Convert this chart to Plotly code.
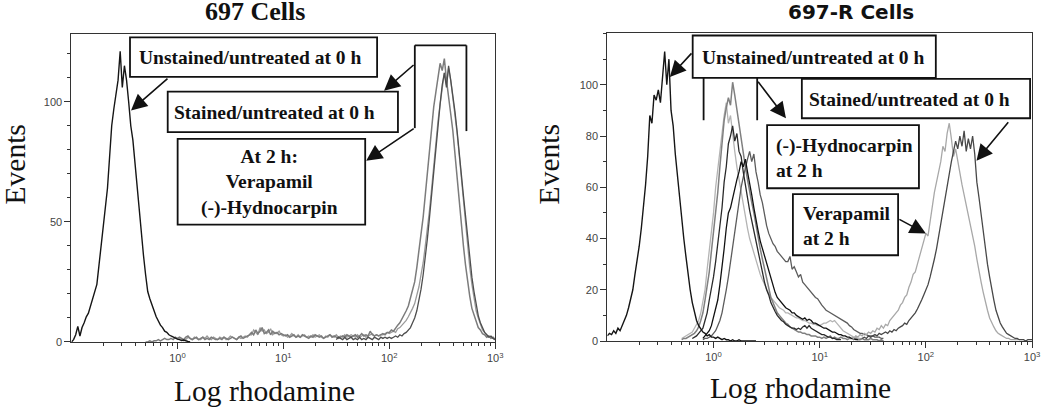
import plotly.graph_objects as go

W, H = 1050, 416
STEP = 0.02  # channel width, in decades of log rhodamine

# ---------------- data: start (log10 of first channel) + events per channel ----------------
# 697 cells
left_unst_start = -1.00
left_unst = [0, 1, 3, 6.5, 2.5, 6, 8, 10.5, 12, 15, 17, 20, 24, 32, 40, 48, 56, 64, 77, 90,
             97, 104, 109, 121, 106, 115, 109, 100, 90, 84, 74, 66, 57, 47, 36, 28, 21, 18, 15, 13,
             10.5, 8.5, 7, 6, 4.5, 4, 3, 2.5, 2, 1.5, 1.2, 1, 0.6, 0.8, 0.4, 0.2, 0]

left_vera_start = -0.30
left_vera = [0, 0, 0.5, 0, 0.5, 0.5, 1, 0.5, 1, 1.5, 1, 1, 1.5, 1, 2, 1.5,
             2, 1.5, 1, 2, 2.5, 1.5, 1, 1.5, 2, 1, 1.5, 2, 1, 1.5, 1, 2, 1.5, 1, 1, 1.5,
             1, 2, 1.5, 1, 1.5, 2, 1.5, 1, 2, 2.5, 1.5, 2, 2.5, 3,
             4, 3, 5, 3.5, 4.5, 6, 3.5, 4, 5, 3, 4.5, 3.5, 4, 3, 3.5, 3,
             2.5, 3, 2, 2.5, 3, 2, 2.5, 2, 3, 2.5, 2, 1.5, 2.5, 2, 3, 2.5, 2, 2.5, 1.5, 2,
             2.5, 3, 2, 2.5, 2, 1.5, 2, 2.5, 2, 3, 2.5, 2, 2.5, 3, 2, 2.5, 3.5, 2.5, 3, 2.5,
             4.5, 3, 2.5, 3, 2.5, 3, 3.5, 3, 4,
             4, 5, 4.5, 6, 7, 8, 9.5, 11, 13, 15, 18, 21, 25, 31, 37, 45, 52, 61, 70, 80,
             90, 98, 104, 110, 116, 113, 118, 109, 103, 95, 88, 78, 68, 58, 49, 40, 32, 25, 19, 14,
             11, 8, 6, 5, 3.5, 3, 2, 2.5, 1.5, 2, 1]

left_hydn_start = 0.00
left_hydn = [1, 1.5, 1, 0.5, 1, 2, 1.5, 1, 2, 1.5, 1, 1, 2, 1.5, 2.5, 1.5, 1, 2, 1.5, 1,
             2, 1.5, 2, 1, 1.5, 2.5, 2, 1.5, 1, 2, 1.5, 2, 2.5, 2, 3,
             3, 5, 4, 3, 6, 4.5, 5, 3.5, 4, 5.5, 3, 4, 3.5, 4.5, 3, 2.5,
             3, 2, 2.5, 3.5, 2.5, 2, 3, 2, 2.5, 3, 2, 2.5, 2, 3, 2, 2.5, 3, 2, 1.5, 2.5,
             2, 3, 2.5, 2, 3, 2, 2.5, 2, 3, 2, 2.5, 3, 2.5, 2, 3, 2, 2.5, 3, 2, 2.5,
             3, 3.5, 2.5, 3, 2.5, 3, 3, 3.5, 4,
             3.5, 4, 4.5, 4, 5.5, 6, 7, 8, 9, 10.5, 12, 14, 16, 19, 23, 28, 33, 40, 47, 55,
             64, 74, 84, 92, 99, 106, 112, 107, 114, 109, 102, 95, 87, 78, 68, 58, 48, 39, 31, 24,
             18, 13, 10, 7, 5, 4, 3, 2.5, 2, 1.5, 1]

left_stain_start = 1.50
left_stain = [1, 2, 1.5, 1, 2, 1, 1.5, 2, 1, 1.5, 1, 2, 1, 1.5, 1, 2, 1.5, 1, 2, 1.5,
              1, 2, 1.5, 2, 1.5,
              2, 1.5, 2, 2.5, 2, 3, 2.5, 3.5, 4, 5, 6, 8, 10, 13, 17, 22, 28, 35, 43, 52,
              62, 72, 82, 91, 99, 107, 112, 106, 115, 109, 103, 96, 88, 80, 70, 61, 52, 43, 35, 27,
              21, 15, 11, 8, 6, 4, 3, 2, 2.5, 1.5, 1]

# 697-R cells
right_unst_start = -1.00
right_unst = [2, 3, 2.5, 4, 3, 5, 4, 6, 8, 10, 13, 17, 20, 26, 31, 37, 44, 52, 61, 72,
              88, 85, 96, 94, 98, 93, 105, 113, 100, 110, 90, 84, 73, 64, 56, 47, 40, 33, 26, 20,
              15, 11, 8, 6, 4.5, 3.5, 3, 2, 2.5, 1.5,
              1.5, 1, 1.5, 1, 0.5, 1, 0.5, 0.5, 0, 0.5, 0, 0, 0.5, 0, 0, 0, 0, 0, 0, 0, 0]

right_hyd1_start = -0.30
right_hyd1 = [0.5, 1, 1, 1.5, 2, 2.5, 3, 4, 5.5, 8, 11, 16, 21, 27, 35, 42, 51, 58, 68, 76,
              86, 91, 95, 92, 101, 96, 90, 86, 80, 72, 68, 63, 58, 54, 50, 45, 40, 36, 32, 28,
              24, 20, 17, 15, 13, 11, 10, 9, 8, 7, 6.5, 5.5, 5, 4.5, 4, 3.5, 3.5, 3, 3, 2.5,
              2.5, 2, 2, 2, 1.5,
              1.5, 1, 1.5, 1, 1.5, 2, 1, 1.5, 1, 1, 1.5, 1, 1, 0.5, 1, 1, 0.5, 1, 0.5, 0.5,
              1, 0.5, 0.5, 0.5, 1, 0.5, 0.5, 0.5, 0, 0.5, 0]

right_hyd2_start = -0.20
right_hyd2 = [1, 1.5, 2, 3, 4, 5, 8, 11, 16, 20, 25, 31, 37, 45, 52, 62, 68, 77, 80, 84,
              78, 81, 74, 72, 66, 60, 56, 51, 47, 43, 39, 34, 30, 27, 23, 20, 18, 15, 13, 11.5,
              10, 9, 8, 7.5, 6.5, 6, 5.5, 5, 5, 4.5, 5, 4.5, 5.5, 6, 5, 6, 5, 4.5, 4, 3.5,
              3, 2.5, 2.5, 2, 1.5, 1.5, 1, 1, 0.5, 0.5, 0.5]

right_hyd3_start = -0.10
right_hyd3 = [1, 2, 3, 4, 6, 9, 12, 16, 22, 28, 36, 44, 50, 52, 56, 60, 63, 66, 70, 68,
              71, 66, 62, 57, 52, 47, 43, 39, 36, 33, 30, 27, 24, 21, 19, 17, 16, 15, 14, 13,
              12.5, 12, 11, 11, 10, 9.5, 9, 8.5, 9, 8, 8.5, 8, 7, 7, 6.5, 6, 5.5, 5, 5, 4.5,
              4, 3.5, 3.5, 3, 2.5, 2.5, 2, 2, 1.5, 1.5, 1, 1, 0.5, 0.5]

right_hyd4_start = -0.10
right_hyd4 = [0.5, 1, 1, 1.5, 2, 3, 4, 6, 8, 11, 15, 20, 25, 31, 38, 44, 50, 55, 60, 64,
              68, 71, 74, 70, 73, 66, 62, 57, 54, 49, 45, 42, 40, 38, 37, 35, 34, 33, 32, 31,
              31, 33, 28, 29, 27, 25, 26, 23, 22, 21, 20, 19, 18, 17, 16.5, 15, 14, 13, 12, 11.5,
              11, 10.5, 10, 9.5, 9, 8.5, 8, 7.5, 7, 6, 5.5, 4.5, 4, 3.5, 3, 3, 2.5, 2.5, 2, 2,
              2, 1.5, 1.5, 1.5, 1, 1]

right_hyd5_start = -0.30
right_hyd5 = [1, 1.5, 2, 2.5, 3, 3.5, 5, 6.5, 8, 11, 15, 20, 28, 35, 42, 50, 60, 67, 75, 82,
              88, 93, 85, 88, 80, 74, 68, 63, 58, 53, 48, 44, 40, 37, 34, 31, 28, 26, 24, 22,
              20, 18.5, 17, 16, 15, 14, 13, 12.5, 12, 11, 11, 10.5, 10, 9.5, 9, 9, 8.5, 8, 8, 7.5,
              7, 7, 6.5, 6.5, 6, 6, 6.5, 7, 7, 7.5, 8, 7.5, 8, 7, 6, 5, 4, 3.5, 3, 2.5,
              2, 1.5, 1.5, 1, 1, 0.5]

right_vera_start = 1.30
right_vera = [1.5, 1, 2, 1.5, 2.5, 2, 3, 2.5, 3.5, 3, 4, 3.5, 5, 4.5, 6, 5, 6.5, 6, 8, 9,
              10, 11, 12, 14, 15, 17, 18, 21, 23, 26, 27, 30, 33, 36, 38, 42, 41, 47, 53, 58,
              62, 66, 70, 76, 74, 81, 85, 79, 72, 75, 70, 66, 61, 57, 53, 50, 46, 42, 37, 32,
              27, 23, 19, 15, 12, 9, 7, 5.5, 4, 3, 2.5, 2, 1.5, 1, 1, 0.5, 0.5, 0.5, 0.5, 0.5]

right_stain_start = 1.40
right_stain = [1, 1.5, 1, 2, 1.5, 2, 2.5, 2, 3, 2.5, 3, 3.5, 3, 4, 3.5, 4.5, 4, 5, 5.5, 6,
               7, 6.5, 8, 9, 10, 11, 12.5, 14, 16, 18, 20, 22, 25, 28, 32, 36, 41, 45, 50, 55,
               60, 66, 70, 74, 78, 75, 80, 76, 82, 74, 79, 75, 80, 73, 62, 56, 49, 42, 36, 30,
               25, 20, 16, 12, 9.5, 7, 5.5, 4, 3, 2.5, 2, 1.5, 1, 1, 0.5, 0.5, 0.5, 0, 0.5, 0.5, 0.5]

x_major = [1, 10, 100, 1000]
x_major_text = ["10<sup>0</sup>", "10<sup>1</sup>", "10<sup>2</sup>", "10<sup>3</sup>"]
x_minor = [m * d for d in (0.1, 1, 10, 100) for m in range(2, 10)]
left_y_ticks = [0, 50, 100]
right_y_ticks = [0, 20, 40, 60, 80, 100]

# ---------------- figure ----------------
def px(v):
    return v / W

def py(v):
    return 1 - v / H

def chan(start, vals):
    return [10 ** (start + STEP * i) for i in range(len(vals))]

fig = go.Figure()

def add(start, vals, color, axis, width=1.3):
    fig.add_trace(go.Scatter(
        x=chan(start, vals), y=vals, mode="lines",
        line=dict(color=color, width=width),
        xaxis="x" if axis == 1 else "x2", yaxis="y" if axis == 1 else "y2",
        showlegend=False, hoverinfo="skip"))

add(left_hydn_start, left_hydn, "#9a9a9a", 1)
add(left_vera_start, left_vera, "#7c7c7c", 1, 1.5)
add(left_stain_start, left_stain, "#4e4e4e", 1)
add(left_unst_start, left_unst, "#151515", 1, 1.4)

add(right_hyd5_start, right_hyd5, "#b4b4b4", 2)
add(right_hyd1_start, right_hyd1, "#808080", 2, 1.5)
add(right_hyd4_start, right_hyd4, "#5c5c5c", 2)
add(right_hyd2_start, right_hyd2, "#2a2a2a", 2)
add(right_hyd3_start, right_hyd3, "#111111", 2)
add(right_vera_start, right_vera, "#a8a8a8", 2)
add(right_stain_start, right_stain, "#484848", 2)
add(right_unst_start, right_unst, "#151515", 2, 1.4)

tickfont = dict(family="Liberation Sans", size=11, color="#444")
common_x = dict(type="log", range=[-1, 3], showline=True, mirror=True, linecolor="#333",
                linewidth=1.2, ticks="outside", ticklen=6, tickcolor="#333",
                tickvals=x_major, ticktext=x_major_text, tickfont=tickfont,
                showgrid=False, zeroline=False,
                minor=dict(tickmode="array", tickvals=x_minor, ticks="outside", ticklen=3,
                           tickcolor="#333", showgrid=False))
common_y = dict(showline=True, mirror=True, linecolor="#333", linewidth=1.2,
                ticks="outside", ticklen=6, tickcolor="#333", tickfont=tickfont,
                showgrid=False, zeroline=False, tickmode="array")

fig.update_layout(
    width=W, height=H, margin=dict(l=0, r=0, t=0, b=0),
    paper_bgcolor="white", plot_bgcolor="white",
    xaxis=dict(domain=[px(72), px(499)], anchor="y", **common_x),
    yaxis=dict(domain=[py(347), py(35)], anchor="x", range=[0, 128], tickvals=left_y_ticks,
               minor=dict(dtick=10, ticks="outside", ticklen=3, tickcolor="#333"), **common_y),
    xaxis2=dict(domain=[px(612), px(1040)], anchor="y2", **common_x),
    yaxis2=dict(domain=[py(346), py(33)], anchor="x2", range=[0, 120.4], tickvals=right_y_ticks,
                minor=dict(dtick=10, ticks="outside", ticklen=3, tickcolor="#333"), **common_y),
)

shapes = []
boxes = [(131, 38, 380, 78), (169, 93, 401, 134), (179, 141, 368, 228),
         (698, 36, 943, 79), (808, 80, 1038, 120), (773, 127, 926, 191), (799, 197, 905, 259)]
for x0, y0, x1, y1 in boxes:
    shapes.append(dict(type="rect", xref="paper", yref="paper", x0=px(x0), x1=px(x1),
                       y0=py(y0), y1=py(y1), line=dict(color="#111", width=1.8),
                       fillcolor="white", layer="above"))
lines = [(418, 46, 418, 130), (418, 46, 470, 46), (470, 46, 470, 133),
         (709, 79, 709, 122), (763, 79, 763, 122)]
for x0, y0, x1, y1 in lines:
    shapes.append(dict(type="line", xref="paper", yref="paper", x0=px(x0), x1=px(x1),
                       y0=py(y0), y1=py(y1), line=dict(color="#111", width=1.8)))
fig.update_layout(shapes=shapes)

ann = []
arrows = [((170, 79), (132, 112)), ((418, 65), (387, 92)), ((418, 130), (369, 163)),
          ((698, 53), (675, 78)), ((763, 82), (792, 120)), ((1017, 123), (984, 163)),
          ((905, 222), (933, 237))]
for (tx, ty), (hx, hy) in arrows:
    ann.append(dict(xref="paper", yref="paper", x=px(hx), y=py(hy), ax=tx - hx, ay=ty - hy,
                    text="", showarrow=True, arrowhead=2, arrowsize=2.0, arrowwidth=1.6,
                    arrowcolor="#111", standoff=0))

bf = dict(family="Liberation Serif", size=19.5, color="#111")
texts = [("Unstained/untreated at 0 h", 252, 58, "center"),
         ("Stained/untreated at 0 h", 277, 114, "center"),
         ("At 2 h:<br>Verapamil<br>(-)-Hydnocarpin", 272, 185, "center"),
         ("Unstained/untreated at 0 h", 819, 58, "center"),
         ("Stained/untreated at 0 h", 916, 101, "center"),
         ("(-)-Hydnocarpin<br>at 2 h", 780, 160, "left"),
         ("Verapamil<br>at 2 h", 807, 229, "left")]
for t, x, y, al in texts:
    ann.append(dict(xref="paper", yref="paper", x=px(x), y=py(y), text="<b>" + t + "</b>",
                    showarrow=False, font=bf, align=al,
                    xanchor="center" if al == "center" else "left", yanchor="middle"))

big = dict(family="Liberation Serif", size=29.5, color="#111")
ann += [
    dict(xref="paper", yref="paper", x=px(257), y=py(12), text="<b>697 Cells</b>",
         showarrow=False, font=dict(family="Liberation Serif", size=26, color="#111"),
         xanchor="center", yanchor="middle"),
    dict(xref="paper", yref="paper", x=px(858), y=py(12), text="<b>697-R Cells</b>",
         showarrow=False, font=dict(family="DejaVu Sans", size=20, color="#111"),
         xanchor="center", yanchor="middle"),
    dict(xref="paper", yref="paper", x=px(15), y=py(167), text="Events", textangle=-90,
         showarrow=False, font=big, xanchor="center", yanchor="middle"),
    dict(xref="paper", yref="paper", x=px(553), y=py(167), text="Events", textangle=-90,
         showarrow=False, font=big, xanchor="center", yanchor="middle"),
    dict(xref="paper", yref="paper", x=px(267), y=py(397), text="Log rhodamine",
         showarrow=False, font=big, xanchor="center", yanchor="middle"),
    dict(xref="paper", yref="paper", x=px(807), y=py(394), text="Log rhodamine",
         showarrow=False, font=big, xanchor="center", yanchor="middle"),
]
fig.update_layout(annotations=ann)

fig.write_html("out.html", config={"displayModeBar": False},
               post_script="document.body.style.margin='0px';")
